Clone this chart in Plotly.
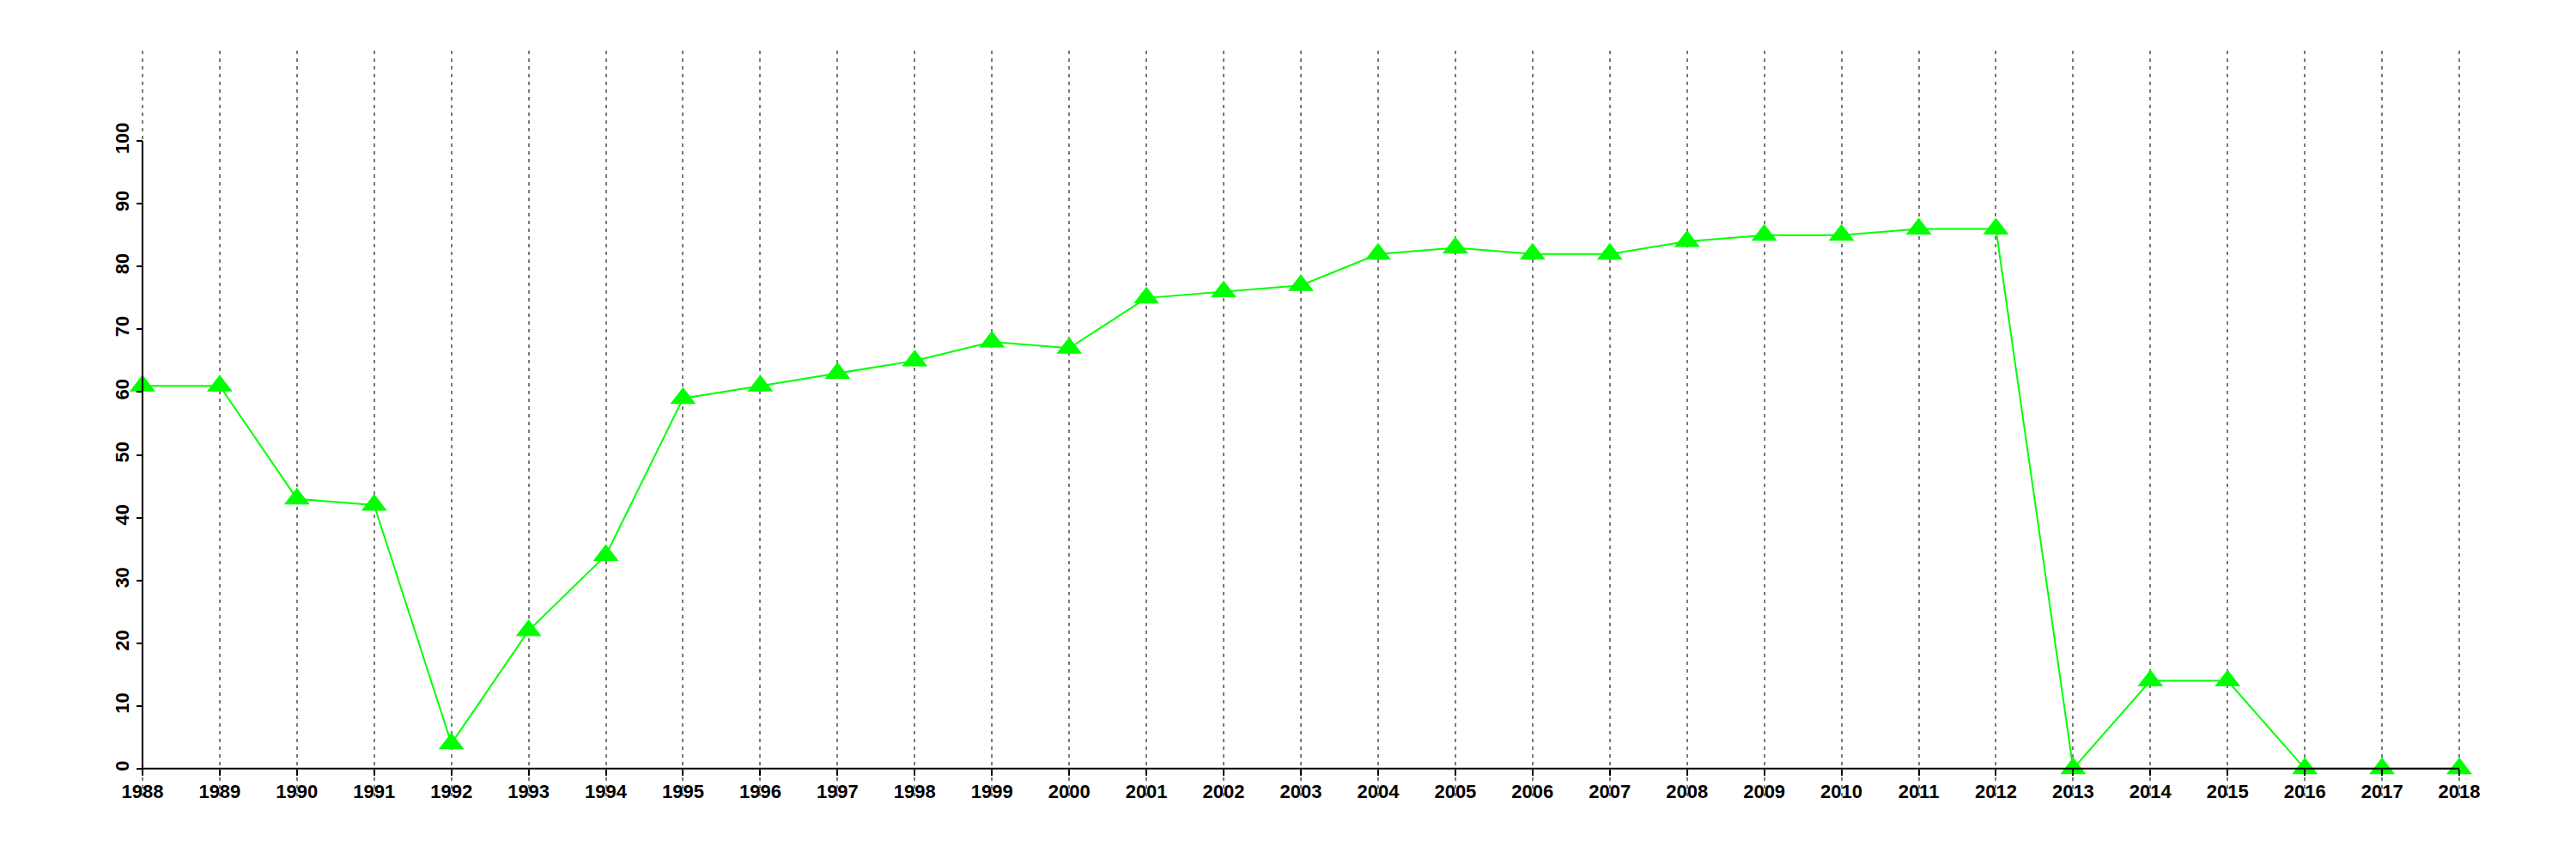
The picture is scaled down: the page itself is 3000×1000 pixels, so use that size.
import plotly.graph_objects as go

years = list(range(1988, 2019))
values = [61, 61, 43, 42, 4, 22, 34, 59, 61, 63, 65, 68, 67, 75, 76, 77,
          82, 83, 82, 82, 84, 85, 85, 86, 86, 0, 14, 14, 0, 0, 0]
y_ticks = list(range(0, 101, 10))

x_pad = (years[-1] - years[0]) * 0.04
y_top = 110
y_pad = y_top * 0.04
x_range = [years[0] - x_pad, years[-1] + x_pad]
y_range = [-y_pad, y_top + y_pad]

family = "Liberation Sans, Arial, sans-serif"

fig = go.Figure()
fig.add_trace(go.Scatter(
    x=years, y=values, mode="lines+markers",
    line=dict(color="#00FF00", width=2),
    marker=dict(symbol="triangle-up", size=26, color="#00FF00", line=dict(width=0)),
    cliponaxis=False, showlegend=False, hoverinfo="skip",
))

# axis lines like R's axis(pos=...)
fig.add_shape(type="line", xref="x", yref="y", x0=years[0], x1=years[-1], y0=0, y1=0,
              line=dict(color="black", width=2), layer="above")
fig.add_shape(type="line", xref="x", yref="y", x0=years[0], x1=years[0], y0=y_ticks[0], y1=y_ticks[-1],
              line=dict(color="black", width=2), layer="above")

x_pos = (0 - y_range[0]) / (y_range[1] - y_range[0])
y_pos = (years[0] - x_range[0]) / (x_range[1] - x_range[0])

fig.update_layout(
    width=3000, height=1000,
    margin=dict(l=58, r=28, t=59, b=73, autoexpand=False),
    paper_bgcolor="white", plot_bgcolor="white",
    xaxis=dict(
        range=x_range, tickmode="array", tickvals=years, ticktext=[str(y) for y in years],
        showgrid=True, gridcolor="#7a7a7a", gridwidth=2, griddash="4px,5px",
        showline=False, zeroline=False, automargin=False,
        ticks="outside", ticklen=7, tickwidth=2, tickcolor="black",
        tickfont=dict(family=family, size=22, color="black", weight="bold"),
        anchor="free", position=x_pos,
    ),
    yaxis=dict(
        range=y_range, tickmode="array", tickvals=y_ticks, ticktext=[str(v) for v in y_ticks],
        showgrid=False, showline=False, zeroline=False, automargin=False,
        ticks="outside", ticklen=7, tickwidth=2, tickcolor="black",
        tickangle=-90,
        tickfont=dict(family=family, size=22, color="black", weight="bold"),
        anchor="free", position=y_pos,
    ),
)

fig.write_html("out.html", config={"displayModeBar": False},
               post_script="document.body.style.margin='0px';")
